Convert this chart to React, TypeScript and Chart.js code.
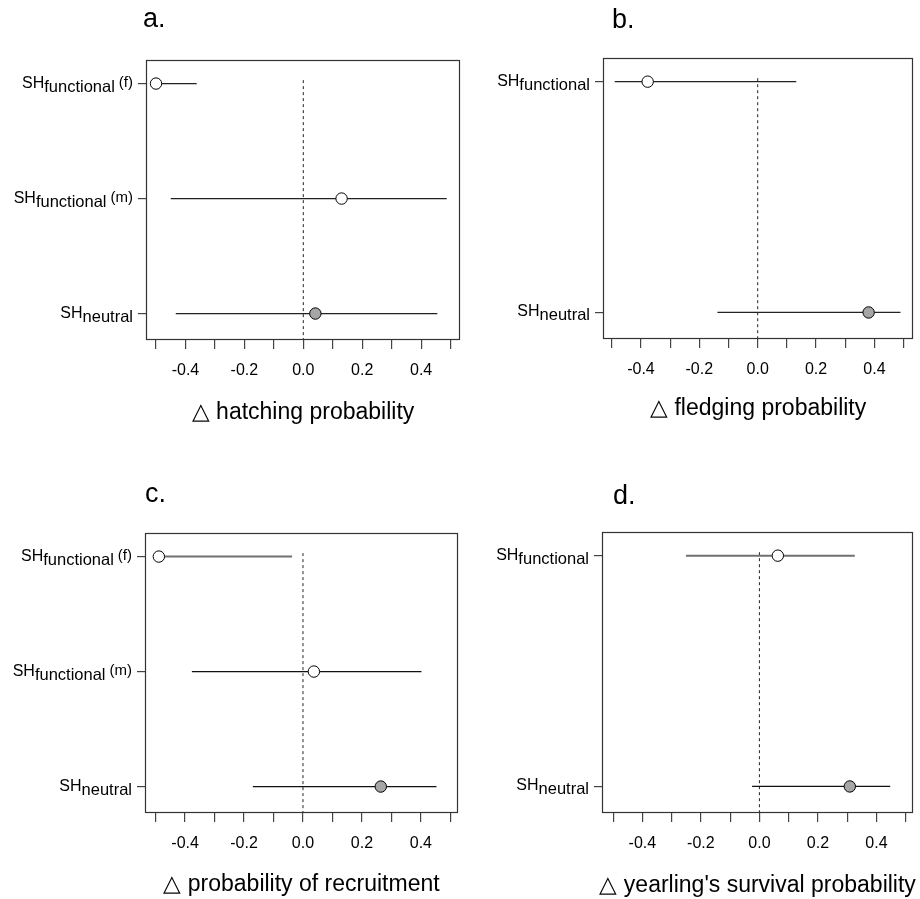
import React, { useEffect, useRef } from "react";
import { Chart, registerables } from "chart.js";

Chart.register(...registerables);

const FONT = '"Liberation Sans", Arial, Helvetica, sans-serif';

// ---------- shared axis ticks ----------
const xTickValues = [-0.5, -0.4, -0.3, -0.2, -0.1, 0, 0.1, 0.2, 0.3, 0.4, 0.5];
const xLabeledTicks = [-0.4, -0.2, 0, 0.2, 0.4];

// ---------- panel a: hatching probability ----------
const rowsA = [1, 2, 3];
const namesA = [["SH", "functional", "(f)"], ["SH", "functional", "(m)"], ["SH", "neutral", ""]];
const estA = [-0.5, 0.13, 0.041];
const lowA = [-0.51, -0.45, -0.433];
const highA = [-0.362, 0.487, 0.455];
const fillA = ["#ffffff", "#ffffff", "#a6a6a6"];
const titleA = "\u25B3 hatching probability";

// ---------- panel b: fledging probability ----------
const rowsB = [1, 3];
const namesB = [["SH", "functional", ""], ["SH", "neutral", ""]];
const estB = [-0.377, 0.38];
const lowB = [-0.49, -0.138];
const highB = [0.132, 0.489];
const fillB = ["#ffffff", "#a6a6a6"];
const titleB = "\u25B3 fledging probability";

// ---------- panel c: probability of recruitment ----------
const rowsC = [1, 2, 3];
const namesC = [["SH", "functional", "(f)"], ["SH", "functional", "(m)"], ["SH", "neutral", ""]];
const estC = [-0.489, 0.037, 0.264];
const lowC = [-0.5, -0.377, -0.17];
const highC = [-0.037, 0.402, 0.453];
const fillC = ["#ffffff", "#ffffff", "#a6a6a6"];
const titleC = "\u25B3 probability of recruitment";

// ---------- panel d: yearling's survival probability ----------
const rowsD = [1, 3];
const namesD = [["SH", "functional", ""], ["SH", "neutral", ""]];
const estD = [0.063, 0.309];
const lowD = [-0.251, -0.025];
const highD = [0.326, 0.447];
const fillD = ["#ffffff", "#a6a6a6"];
const titleD = "\u25B3 yearling's survival probability";

// ---------- styling of CI lines ----------
const ciColorA = ["#222222", "#222222", "#222222"];
const ciColorB = ["#222222", "#222222"];
const ciColorC = ["#707070", "#111111", "#111111"];
const ciColorD = ["#707070", "#111111"];
const ciWidthA = [1.3, 1.3, 1.3];
const ciWidthB = [1.3, 1.3];
const ciWidthC = [2, 1.3, 1.3];
const ciWidthD = [2, 1.3];

const Y_MIN = 0.795;
const Y_MAX = 3.23;
const ZERO_TOP = 0.97;

type Panel = {
  letter: string;
  title: string;
  rows: number[];
  names: string[][];
  est: number[];
  low: number[];
  high: number[];
  fill: string[];
  ciColor: string[];
  ciWidth: number[];
  xMin: number;
  xMax: number;
  box: { left: number; top: number; w: number; h: number };
  area: { l: number; t: number; r: number; b: number };
  letterPos: { x: number; y: number };
  titleDy: number;
};

const panels: Panel[] = [
  {
    letter: "a.", title: titleA, rows: rowsA, names: namesA, est: estA, low: lowA, high: highA,
    fill: fillA, ciColor: ciColorA, ciWidth: ciWidthA, xMin: -0.534, xMax: 0.532,
    box: { left: 0, top: 0, w: 470, h: 450 }, area: { l: 146, t: 60, r: 460, b: 340 },
    letterPos: { x: 143, y: 27 }, titleDy: 79,
  },
  {
    letter: "b.", title: titleB, rows: rowsB, names: namesB, est: estB, low: lowB, high: highB,
    fill: fillB, ciColor: ciColorB, ciWidth: ciWidthB, xMin: -0.53, xMax: 0.533,
    box: { left: 460, top: 0, w: 460, h: 450 }, area: { l: 143, t: 58, r: 456, b: 339 },
    letterPos: { x: 152, y: 28 }, titleDy: 76,
  },
  {
    letter: "c.", title: titleC, rows: rowsC, names: namesC, est: estC, low: lowC, high: highC,
    fill: fillC, ciColor: ciColorC, ciWidth: ciWidthC, xMin: -0.536, xMax: 0.526,
    box: { left: 0, top: 450, w: 470, h: 449 }, area: { l: 145, t: 83, r: 458, b: 363 },
    letterPos: { x: 145, y: 52 }, titleDy: 78,
  },
  {
    letter: "d.", title: titleD, rows: rowsD, names: namesD, est: estD, low: lowD, high: highD,
    fill: fillD, ciColor: ciColorD, ciWidth: ciWidthD, xMin: -0.538, xMax: 0.526,
    box: { left: 460, top: 450, w: 460, h: 449 }, area: { l: 142, t: 82, r: 455, b: 363 },
    letterPos: { x: 153, y: 54 }, titleDy: 79,
  },
];

const X_AXIS_H = 40;
const Y_AXIS_W = 8;

function makeDecorPlugin(p: Panel) {
  return {
    id: "decor" + p.letter,
    afterDatasetsDraw(chart: any) {
      const { ctx, chartArea } = chart;
      ctx.save();
      // frame
      ctx.strokeStyle = "#333333";
      ctx.lineWidth = 1.2;
      const l = Math.round(chartArea.left) + 0.5;
      const t = Math.round(chartArea.top) + 0.5;
      const r = Math.round(chartArea.right) - 0.5;
      const b = Math.round(chartArea.bottom) - 0.5;
      ctx.strokeRect(l, t, r - l, b - t);
      ctx.restore();
    },
    afterDraw(chart: any) {
      const { ctx, chartArea } = chart;
      const ys = chart.scales.y;
      ctx.save();
      ctx.fillStyle = "#000000";
      ctx.textBaseline = "alphabetic";
      // row labels with subscripts
      const rightEdge = chartArea.left - 13;
      p.rows.forEach((row: number, i: number) => {
        const y = ys.getPixelForValue(row);
        const [main, sub, suffix] = p.names[i];
        const segs: { text: string; size: number; dy: number; gap: number }[] = [
          { text: main, size: 16, dy: 4, gap: 0 },
          { text: sub, size: 16.5, dy: 8, gap: 0 },
        ];
        if (suffix) segs.push({ text: suffix, size: 15, dy: 3, gap: 4 });
        let x = rightEdge;
        for (let k = segs.length - 1; k >= 0; k--) {
          const s = segs[k];
          ctx.font = `${s.size}px ${FONT}`;
          const w = ctx.measureText(s.text).width;
          x -= w;
          ctx.textAlign = "left";
          ctx.fillText(s.text, x, y + s.dy);
          x -= s.gap;
        }
      });
      // panel letter
      ctx.font = `27px ${FONT}`;
      ctx.textAlign = "left";
      ctx.fillText(p.letter, p.letterPos.x, p.letterPos.y);
      // axis title
      ctx.font = `23px ${FONT}`;
      ctx.textAlign = "center";
      ctx.fillText(p.title, (chartArea.left + chartArea.right) / 2, chartArea.bottom + p.titleDy);
      ctx.restore();
    },
  };
}

function makeConfig(p: Panel): any {
  const datasets: any[] = [];
  // estimates (drawn on top)
  datasets.push({
    type: "scatter",
    data: p.rows.map((r, i) => ({ x: p.est[i], y: r })),
    pointRadius: 5.7,
    pointBackgroundColor: p.fill,
    pointBorderColor: "#000000",
    pointBorderWidth: 1,
    showLine: false,
    order: 0,
  });
  // confidence intervals
  p.rows.forEach((r, i) => {
    datasets.push({
      type: "line",
      data: [
        { x: p.low[i], y: r },
        { x: p.high[i], y: r },
      ],
      borderColor: p.ciColor[i],
      borderWidth: p.ciWidth[i],
      pointRadius: 0,
      fill: false,
      order: 1,
    });
  });
  // zero reference line
  datasets.push({
    type: "line",
    data: [
      { x: 0, y: ZERO_TOP },
      { x: 0, y: Y_MAX },
    ],
    borderColor: "#222222",
    borderWidth: 1,
    borderDash: [3, 3],
    pointRadius: 0,
    fill: false,
    order: 2,
  });

  return {
    type: "scatter",
    data: { datasets },
    options: {
      animation: false,
      responsive: false,
      events: [],
      layout: {
        padding: {
          left: p.area.l - Y_AXIS_W,
          top: p.area.t,
          right: p.box.w - p.area.r,
          bottom: p.box.h - p.area.b - X_AXIS_H,
        },
      },
      plugins: { legend: { display: false }, tooltip: { enabled: false }, title: { display: false } },
      scales: {
        x: {
          type: "linear",
          position: "bottom",
          min: p.xMin,
          max: p.xMax,
          afterBuildTicks: (s: any) => {
            s.ticks = xTickValues.map((v) => ({ value: v }));
          },
          afterFit: (s: any) => {
            s.height = X_AXIS_H;
          },
          ticks: {
            autoSkip: false,
            maxRotation: 0,
            minRotation: 0,
            padding: 12,
            color: "#000000",
            font: { size: 16, family: FONT },
            callback: (v: number) =>
              xLabeledTicks.some((t) => Math.abs(t - v) < 1e-9) ? (Math.abs(v) < 1e-9 ? 0 : v).toFixed(1) : "",
          },
          grid: { display: true, drawOnChartArea: false, drawTicks: true, tickLength: 9, color: "#444444", lineWidth: 1.2 },
          border: { display: false },
        },
        y: {
          type: "linear",
          position: "left",
          reverse: true,
          min: Y_MIN,
          max: Y_MAX,
          afterBuildTicks: (s: any) => {
            s.ticks = p.rows.map((v) => ({ value: v }));
          },
          afterFit: (s: any) => {
            s.width = Y_AXIS_W;
          },
          ticks: { display: false },
          grid: { display: true, drawOnChartArea: false, drawTicks: true, tickLength: 8, color: "#444444", lineWidth: 1.2 },
          border: { display: false },
        },
      },
    },
    plugins: [makeDecorPlugin(p)],
  };
}

function PanelChart({ p }: { p: Panel }) {
  const ref = useRef<HTMLCanvasElement | null>(null);
  useEffect(() => {
    if (!ref.current) return;
    const chart = new Chart(ref.current, makeConfig(p));
    return () => chart.destroy();
  }, [p]);
  return (
    <canvas
      ref={ref}
      width={p.box.w}
      height={p.box.h}
      style={{ position: "absolute", left: p.box.left, top: p.box.top, width: p.box.w, height: p.box.h }}
    />
  );
}

export default function App() {
  return (
    <div style={{ position: "absolute", left: 0, top: 0, width: 920, height: 899, background: "#ffffff" }}>
      {panels.map((p) => (
        <PanelChart key={p.letter} p={p} />
      ))}
    </div>
  );
}
